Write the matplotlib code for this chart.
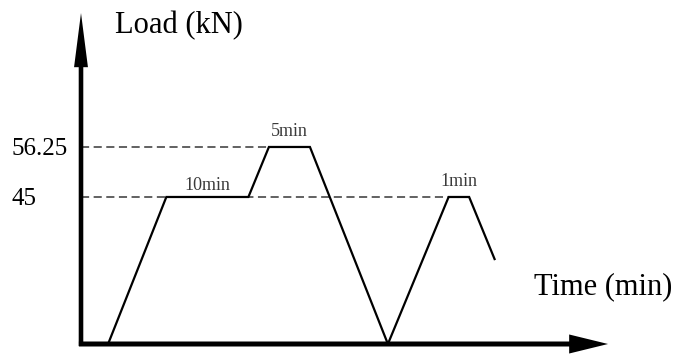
import numpy as np
import matplotlib
matplotlib.use('Agg')
import matplotlib.pyplot as plt

# schematic load history (time in min, load in kN)
time = [3.3, 10.4, 20.4, 22.9, 27.9, 37.4, 44.8, 47.3, 50.4]
load = [0, 45, 45, 56.25, 56.25, 0, 45, 45, 26.0]
levels = [45, 56.25]
level_labels = ['45', '56.25']
level_ends = [44.8, 22.9]
holds = ['10min', '5min', '1min']
hold_pos = [(15.4, 45), (25.4, 56.25), (46.05, 45)]
hold_offset = [5, 8, 8]

# the drawing is not to scale: piecewise vertical scale
ref_load = [0, 45, 56.25, 100]
ref_h = [0, 147, 197, 391.4]

def fwd(v):
    return np.interp(v, ref_load, ref_h)

def inv(v):
    return np.interp(v, ref_h, ref_load)

fig = plt.figure(figsize=(6.79, 3.54), dpi=100)
ax = fig.add_axes([81 / 679, 10 / 354, 526 / 679, 329 / 354])
ax.set_yscale('function', functions=(fwd, inv))
ax.set_xlim(0, 64.1)
ax.set_ylim(0, 85.95)

for s in ax.spines.values():
    s.set_visible(False)

# dashed reference levels
ax.hlines(levels, 0, level_ends, colors='#555555', linestyles=(0, (4.5, 2.5)),
          lw=1.3, zorder=1)

# load path
ax.plot(time, load, color='black', lw=1.6, solid_joinstyle='miter', zorder=3)

# hold duration labels
for txt, (tx, ty), off in zip(holds, hold_pos, hold_offset):
    ax.annotate(txt, (tx, ty), xytext=(0, off), textcoords='offset points',
                ha='center', va='baseline', fontsize=13, color='#3a3a3a',
                family='Liberation Serif')

# axes with arrows
ax.annotate('', xy=(1.002, 0), xytext=(-0.004, 0), xycoords='axes fraction',
            arrowprops=dict(arrowstyle='simple,head_length=2.8,head_width=1.37,tail_width=0.36',
                            fc='black', ec='none', lw=0, shrinkA=0, shrinkB=0,
                            mutation_scale=10), annotation_clip=False)
ax.annotate('', xy=(0, 1.006), xytext=(0, -0.006), xycoords='axes fraction',
            arrowprops=dict(arrowstyle='simple,head_length=3.9,head_width=1.0,tail_width=0.33',
                            fc='black', ec='none', lw=0, shrinkA=0, shrinkB=0,
                            mutation_scale=10), annotation_clip=False)

ax.set_xticks([])
ax.set_yticks(levels, level_labels)
ax.tick_params(axis='y', length=0, pad=50)
for lbl in ax.get_yticklabels():
    lbl.set_horizontalalignment('left')
    lbl.set_fontfamily('Liberation Serif')
    lbl.set_fontsize(18)

fig.text(115 / 679, 1 - 26 / 354, 'Load (kN)', family='Liberation Serif',
         fontsize=22, ha='left', va='center')
fig.text(534 / 679, 1 - 287 / 354, 'Time (min)', family='Liberation Serif',
         fontsize=22, ha='left', va='center')

fig.savefig('out.png', dpi=100)
